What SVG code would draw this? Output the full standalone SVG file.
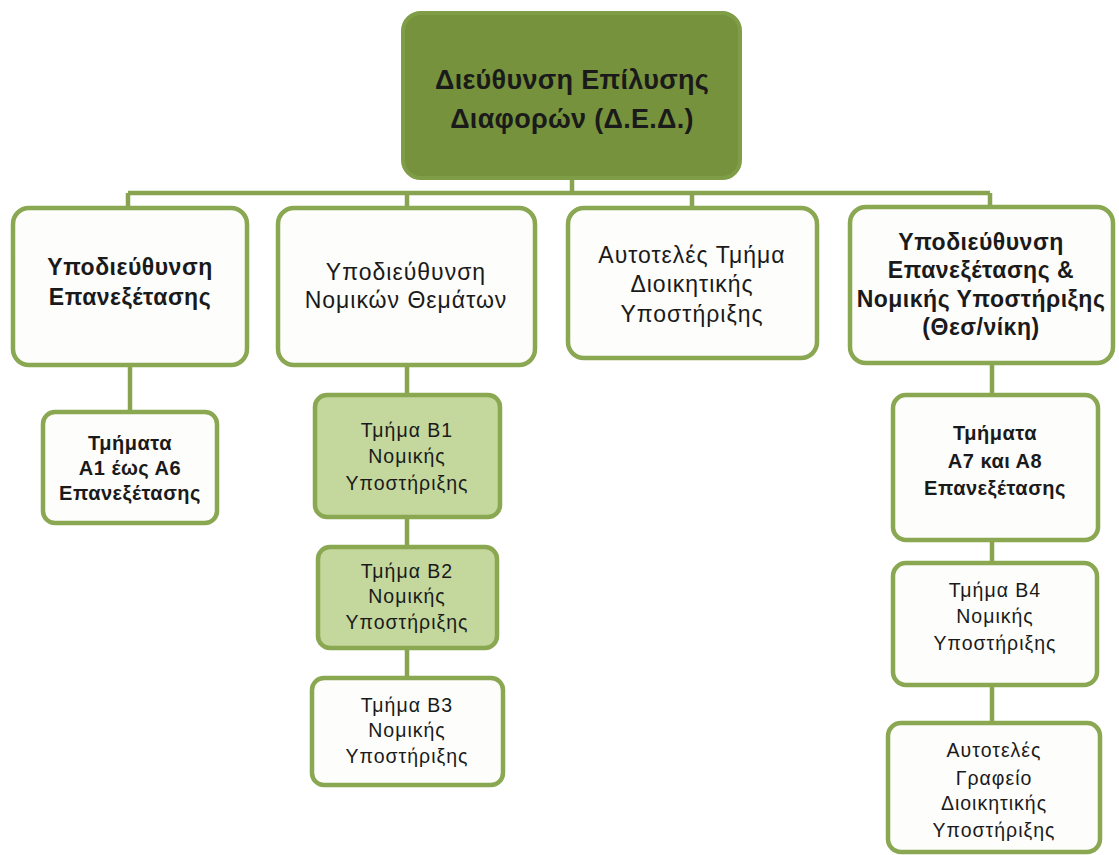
<svg xmlns="http://www.w3.org/2000/svg" width="1119" height="855" viewBox="0 0 1119 855">
<style>
.box{fill:#fdfdfb;stroke:#8aa752;stroke-width:4.5}
.top{fill:#76923c;stroke:#7f9c46;stroke-width:4}
.lg{fill:#c4d79d;stroke:#8aa752;stroke-width:4.5}
.con{stroke:#89a450;stroke-width:4.5;fill:none}
text{font-family:"Liberation Sans",Arial,sans-serif;fill:#1a1a1a;text-anchor:middle}
.t0{font-size:27px;font-weight:bold;letter-spacing:0.3px}
.t1b{font-size:23px;font-weight:bold;letter-spacing:0.5px}
.t1{font-size:23px;letter-spacing:1px}
.t2b{font-size:20px;font-weight:bold;letter-spacing:0.5px}
.t2{font-size:19.5px;letter-spacing:1px}
</style>
<rect width="1119" height="855" fill="#ffffff"/>
<g id="connectors">
<path class="con" d="M572 178V193M128 193H990M128 193V208M407 193V208M692 193V208M990 193V208"/>
<path class="con" d="M130 365V412"/>
<path class="con" d="M407 365V395M407 517V547M407 648V678"/>
<path class="con" d="M992 363V395M992 540V563M992 685V723"/>
</g>
<g id="n-top">
<rect class="top" x="403" y="13" width="337" height="165" rx="18"/>
<text class="t0" x="572" y="89">Διεύθυνση Επίλυσης</text>
<text class="t0" x="572" y="128">Διαφορών (Δ.Ε.Δ.)</text>
</g>
<g id="n-a">
<rect class="box" x="13" y="208" width="234" height="157" rx="16"/>
<text class="t1b" x="130" y="275">Υποδιεύθυνση</text>
<text class="t1b" x="130" y="305">Επανεξέτασης</text>
</g>
<g id="n-b">
<rect class="box" x="278" y="208" width="257" height="157" rx="16"/>
<text class="t1" x="406" y="280">Υποδιεύθυνση</text>
<text class="t1" x="406" y="308">Νομικών Θεμάτων</text>
</g>
<g id="n-c">
<rect class="box" x="568" y="208" width="249" height="150" rx="16"/>
<text class="t1" x="692" y="263">Αυτοτελές Τμήμα</text>
<text class="t1" x="692" y="292">Διοικητικής</text>
<text class="t1" x="692" y="322">Υποστήριξης</text>
</g>
<g id="n-d">
<rect class="box" x="850" y="207" width="263" height="156" rx="16"/>
<text class="t1b" x="981" y="250">Υποδιεύθυνση</text>
<text class="t1b" x="981" y="278">Επανεξέτασης &amp;</text>
<text class="t1b" x="981" y="307">Νομικής Υποστήριξης</text>
<text class="t1b" x="981" y="335">(Θεσ/νίκη)</text>
</g>
<g id="n-a1">
<rect class="box" x="43" y="412" width="174" height="111" rx="12"/>
<text class="t2b" x="130" y="450">Τμήματα</text>
<text class="t2b" x="130" y="475">Α1 έως Α6</text>
<text class="t2b" x="130" y="500">Επανεξέτασης</text>
</g>
<g id="n-b1">
<rect class="lg" x="315" y="395" width="185" height="122" rx="12"/>
<text class="t2" x="407" y="437">Τμήμα Β1</text>
<text class="t2" x="407" y="463">Νομικής</text>
<text class="t2" x="407" y="490">Υποστήριξης</text>
</g>
<g id="n-b2">
<rect class="lg" x="318" y="547" width="179" height="101" rx="12"/>
<text class="t2" x="407" y="578">Τμήμα Β2</text>
<text class="t2" x="407" y="603">Νομικής</text>
<text class="t2" x="407" y="629">Υποστήριξης</text>
</g>
<g id="n-b3">
<rect class="box" x="312" y="678" width="191" height="107" rx="12"/>
<text class="t2" x="407" y="712">Τμήμα Β3</text>
<text class="t2" x="407" y="737">Νομικής</text>
<text class="t2" x="407" y="763">Υποστήριξης</text>
</g>
<g id="n-d1">
<rect class="box" x="893" y="395" width="205" height="145" rx="13"/>
<text class="t2b" x="995" y="440">Τμήματα</text>
<text class="t2b" x="995" y="468">Α7 και Α8</text>
<text class="t2b" x="995" y="495">Επανεξέτασης</text>
</g>
<g id="n-d2">
<rect class="box" x="893" y="563" width="204" height="122" rx="13"/>
<text class="t2" x="995" y="597">Τμήμα Β4</text>
<text class="t2" x="995" y="623">Νομικής</text>
<text class="t2" x="995" y="650">Υποστήριξης</text>
</g>
<g id="n-d3">
<rect class="box" x="888" y="723" width="212" height="129" rx="13"/>
<text class="t2" x="994" y="757">Αυτοτελές</text>
<text class="t2" x="994" y="785">Γραφείο</text>
<text class="t2" x="994" y="810">Διοικητικής</text>
<text class="t2" x="994" y="837">Υποστήριξης</text>
</g>
</svg>
